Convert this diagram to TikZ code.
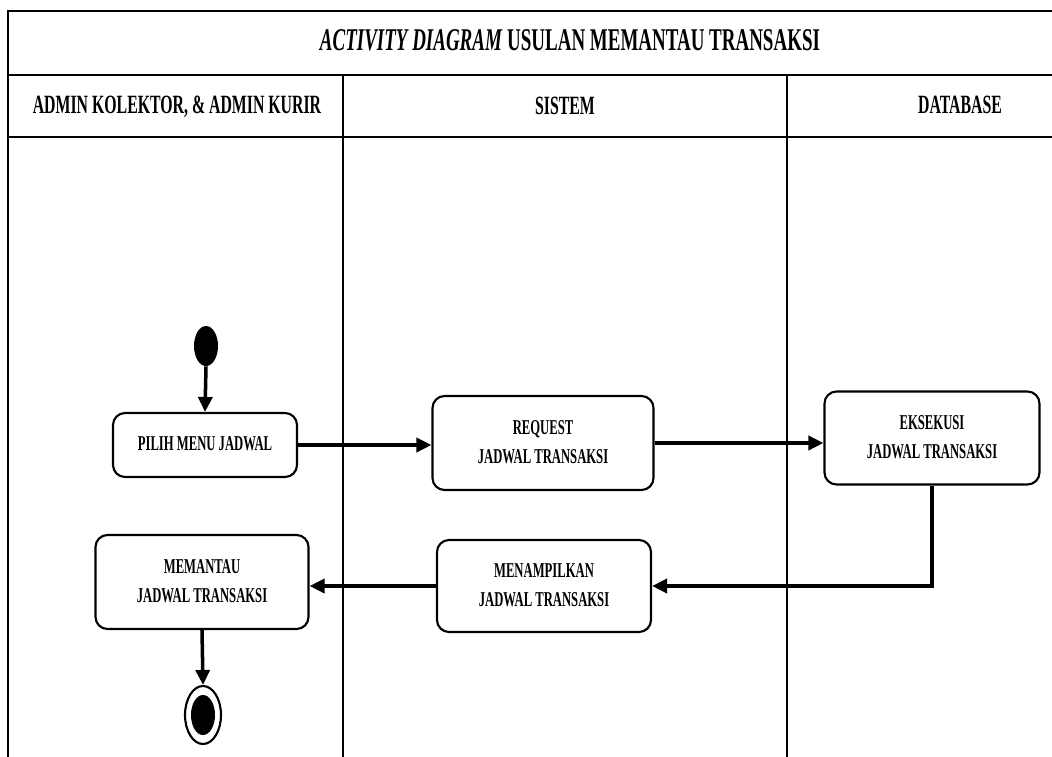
\documentclass[tikz,border=0pt]{standalone}
\usepackage{fontspec}
\setmainfont{Liberation Serif}
\usetikzlibrary{arrows.meta,positioning,shapes.geometric}
% condensed text, as in the reference
\newcommand{\narrowtxt}[1]{\scalebox{0.6}[1]{\begin{tabular}{@{}c@{}}#1\end{tabular}}}

\begin{document}
\begin{tikzpicture}[
    act/.style={rectangle, rounded corners=0.24cm, draw, line width=1.2pt, align=center,
      font=\bfseries\fontsize{12}{17}\selectfont},
    lanehead/.style={font=\bfseries\fontsize{15}{18}\selectfont},
    flow/.style={line width=2pt, -{Triangle[length=0.3cm,width=0.28cm]}}
  ]
    \clip (0,0) rectangle (21.04,-15.12);

    % Frame and swimlanes
    \draw[line width=1.7pt] (0.16,-15.3) -- (0.16,-0.22) -- (21.3,-0.22);
    \draw[line width=1.7pt] (0.16,-1.5) -- (21.3,-1.5);
    \draw[line width=1.7pt] (0.16,-2.74) -- (21.3,-2.74);
    \draw[line width=1.1pt] (6.86,-1.5) -- (6.86,-15.3);
    \draw[line width=1.1pt] (15.74,-1.5) -- (15.74,-15.3);

    % Title and lane headers
    \node[font=\bfseries\fontsize{18}{21}\selectfont] (title) at (11.4,-0.86) {\narrowtxt{\textit{ACTIVITY DIAGRAM} USULAN MEMANTAU TRANSAKSI}};
    \node[lanehead] (hadmin) at (3.54,-2.14) {\narrowtxt{ADMIN KOLEKTOR, \& ADMIN KURIR}};
    \node[lanehead] (hsistem) at (11.3,-2.16) {\narrowtxt{SISTEM}};
    \node[lanehead] (hdb) at (19.2,-2.14) {\narrowtxt{DATABASE}};

    % Activities
    \node[ellipse, fill, minimum width=0.48cm, minimum height=0.8cm, inner sep=0pt] (start) at (4.12,-6.92) {};
    \node[act, minimum width=3.68cm, minimum height=1.28cm] (pilih) at (4.1,-8.9) {\narrowtxt{PILIH MENU JADWAL}};
    \node[act, minimum width=4.42cm, minimum height=1.88cm] (request) at (10.86,-8.86) {\narrowtxt{REQUEST\\JADWAL TRANSAKSI}};
    \node[act, minimum width=4.3cm, minimum height=1.86cm] (eksekusi) at (18.64,-8.76) {\narrowtxt{EKSEKUSI\\JADWAL TRANSAKSI}};
    \node[act, minimum width=4.28cm, minimum height=1.84cm] (tampil) at (10.88,-11.72) {\narrowtxt{MENAMPILKAN\\JADWAL TRANSAKSI}};
    \node[act, minimum width=4.26cm, minimum height=1.88cm] (pantau) at (4.04,-11.64) {\narrowtxt{MEMANTAU\\JADWAL TRANSAKSI}};
    \node[ellipse, draw, line width=1.2pt, minimum width=0.72cm, minimum height=1.16cm, inner sep=0pt] (end) at (4.06,-14.3) {};
    \node[ellipse, fill, minimum width=0.48cm, minimum height=0.8cm, inner sep=0pt] (endin) at (end) {};

    % Flow
    \draw[flow] (start.south) -- (pilih.north);
    \draw[flow] (pilih.east) -- (pilih.east -| request.west);
    \draw[flow] (request.east) -- (request.east -| eksekusi.west);
    \draw[flow] (eksekusi.south) |- (tampil.east);
    \draw[flow] (tampil.west) -- (tampil.west -| pantau.east);
    \draw[flow] (pantau.south) -- (end.north);
  \end{tikzpicture}
\end{document}
